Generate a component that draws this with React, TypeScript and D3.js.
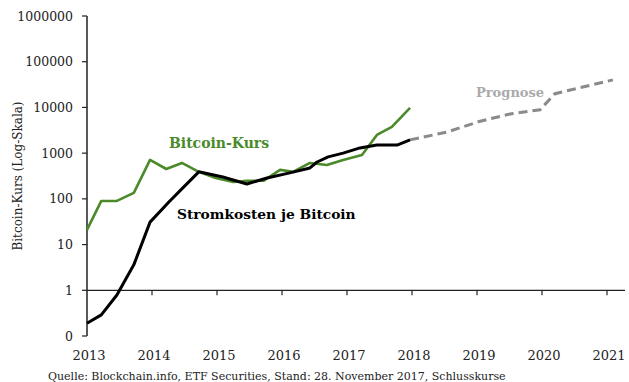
import React from "react";
import * as d3 from "d3";

const priceYears = [2013.0, 2013.22, 2013.46, 2013.72, 2013.97, 2014.22, 2014.46, 2014.72, 2014.98, 2015.25, 2015.46, 2015.72, 2015.97, 2016.17, 2016.43, 2016.69, 2016.94, 2017.23, 2017.46, 2017.69, 2017.97];
const priceValues = [21, 90, 90, 135, 710, 450, 610, 390, 287, 234, 247, 250, 430, 390, 610, 550, 710, 910, 2500, 3750, 9800];

const costYears = [2013.0, 2013.22, 2013.46, 2013.72, 2013.97, 2014.26, 2014.49, 2014.72, 2015.09, 2015.46, 2015.77, 2016.12, 2016.43, 2016.54, 2016.71, 2016.94, 2017.2, 2017.46, 2017.77, 2017.97];
const costValues = [0.19, 0.29, 0.79, 3.6, 31, 85, 183, 390, 300, 212, 285, 370, 475, 640, 830, 1000, 1300, 1500, 1500, 1950];

const forecastYears = [2017.97, 2018.54, 2019.05, 2019.51, 2019.97, 2020.2, 2021.09];
const forecastValues = [1950, 2900, 5000, 7200, 8900, 20000, 40000];

const yTicks = [0.1, 1, 10, 100, 1000, 10000, 100000, 1000000];
const yTickLabels = ["0", "1", "10", "100", "1000", "10000", "100000", "1000000"];
const xTicks = [2013, 2014, 2015, 2016, 2017, 2018, 2019, 2020, 2021];

const FONT = "'DejaVu Serif', serif";

export default function App() {
  const x = d3.scaleLinear().domain([2013, 2021]).range([87, 607]);
  const y = d3.scaleLog().domain([0.1, 1000000]).range([336, 16]);

  const line = d3
    .line<[number, number]>()
    .x((d) => x(d[0]))
    .y((d) => y(d[1]));

  const price = priceYears.map((t, i) => [t, priceValues[i]] as [number, number]);
  const cost = costYears.map((t, i) => [t, costValues[i]] as [number, number]);
  const forecast = forecastYears.map((t, i) => [t, forecastValues[i]] as [number, number]);

  const axisY = y(1);

  return (
    <svg
      width={629}
      height={382}
      style={{ position: "absolute", left: 0, top: 0, background: "#fff" }}
      fontFamily={FONT}
    >
      <rect width={629} height={382} fill="#fff" />
      {/* y axis */}
      <line x1={x(2013)} x2={x(2013)} y1={y(1000000)} y2={y(0.1)} stroke="#222" strokeWidth={1.5} />
      {yTicks.map((v, i) => (
        <g key={v}>
          <line x1={x(2013) - 5} x2={x(2013)} y1={y(v)} y2={y(v)} stroke="#222" strokeWidth={1.2} />
          <text x={73} y={y(v) + 4.5} textAnchor="end" fontSize={12.5} fill="#222">
            {yTickLabels[i]}
          </text>
        </g>
      ))}
      {/* x axis at value 1 */}
      <line x1={x(2013)} x2={625} y1={axisY} y2={axisY} stroke="#222" strokeWidth={1.2} />
      {xTicks.map((t) => (
        <g key={t}>
          {t > 2013 && (
            <line x1={x(t)} x2={x(t)} y1={axisY} y2={axisY + 5} stroke="#222" strokeWidth={1.2} />
          )}
          <text x={x(t) + 2} y={360} textAnchor="middle" fontSize={13} fill="#222">
            {t}
          </text>
        </g>
      ))}
      {/* y title */}
      <text
        transform={`translate(22,176) rotate(-90)`}
        textAnchor="middle"
        fontSize={12}
        fill="#222"
      >
        Bitcoin-Kurs (Log-Skala)
      </text>

      {/* lines */}
      <path d={line(forecast) || ""} fill="none" stroke="#8a8a8a" strokeWidth={3} strokeDasharray="9,5" />
      <path d={line(price) || ""} fill="none" stroke="#4a8a2a" strokeWidth={2.6} strokeLinejoin="round" />
      <path d={line(cost) || ""} fill="none" stroke="#000" strokeWidth={3} strokeLinejoin="round" />

      {/* labels */}
      <text x={169} y={148} fontSize={14} fontWeight="bold" fill="#4a8a2a">
        Bitcoin-Kurs
      </text>
      <text x={177} y={219} fontSize={13.8} fontWeight="bold" fill="#000">
        Stromkosten je Bitcoin
      </text>
      <text x={476} y={97} fontSize={13} fontWeight="bold" fill="#aaaaaa">
        Prognose
      </text>

      {/* source */}
      <text x={48} y={380} fontSize={11} fill="#222">
        Quelle: Blockchain.info, ETF Securities, Stand: 28. November 2017, Schlusskurse
      </text>
    </svg>
  );
}
